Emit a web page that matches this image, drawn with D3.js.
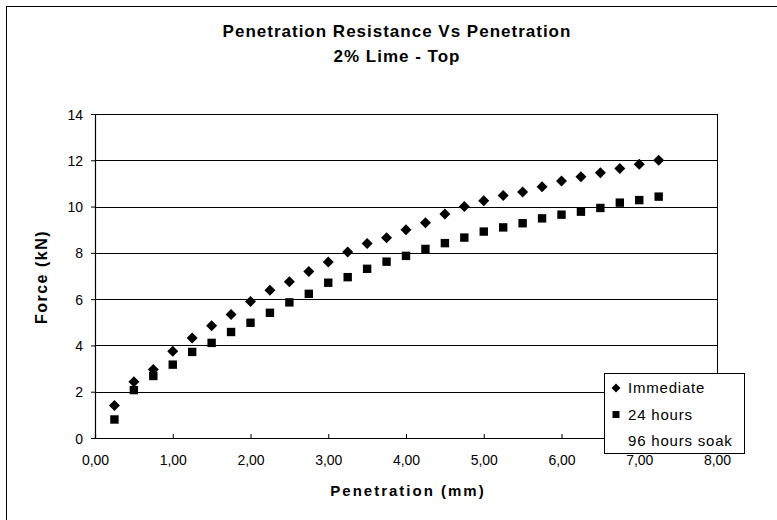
<!DOCTYPE html>
<html>
<head>
<meta charset="utf-8">
<script src="https://cdn.jsdelivr.net/npm/d3@7"></script>
<style>
body { margin: 0; background: #fff; }
text { font-family: "Liberation Sans", Arial, sans-serif; fill: #000; }
.title { font-weight: bold; font-size: 17px; letter-spacing: 1px; }
.axis-title { font-weight: bold; font-size: 15px; letter-spacing: 2px; }
.y-title { font-weight: bold; font-size: 16px; letter-spacing: 1.5px; }
.tick text { font-size: 14px; }
.legend text { font-size: 15px; letter-spacing: 0.8px; }
</style>
</head>
<body>
<div id="chart"></div>
<script>
// penetration (mm)
var penetration = [0.25, 0.5, 0.75, 1.0, 1.25, 1.5, 1.75, 2.0, 2.25, 2.5, 2.75, 3.0, 3.25, 3.5, 3.75,
    4.0, 4.25, 4.5, 4.75, 5.0, 5.25, 5.5, 5.75, 6.0, 6.25, 6.5, 6.75, 7.0, 7.25];

// force (kN)
var immediate = [1.4, 2.43, 2.96, 3.75, 4.32, 4.85, 5.34, 5.9, 6.38, 6.75, 7.19, 7.61, 8.04, 8.4, 8.65,
    9.0, 9.3, 9.68, 10.0, 10.25, 10.48, 10.63, 10.86, 11.1, 11.29, 11.46, 11.65, 11.83, 12.0];
var hours24 = [0.8, 2.07, 2.68, 3.17, 3.72, 4.11, 4.58, 4.98, 5.41, 5.86, 6.23, 6.71, 6.95, 7.31, 7.62,
    7.87, 8.17, 8.42, 8.66, 8.92, 9.1, 9.28, 9.49, 9.65, 9.78, 9.94, 10.17, 10.28, 10.43];

var seriesNames = ["Immediate", "24 hours", "96 hours soak"];
var xTicks = [0, 1, 2, 3, 4, 5, 6, 7, 8];
var yTicks = [0, 2, 4, 6, 8, 10, 12, 14];

var W = 777, H = 520;
var margin = {top: 114, right: 60, bottom: 82, left: 95};
var width = W - margin.left - margin.right;
var height = H - margin.top - margin.bottom;

var svg = d3.select("#chart").append("svg")
    .attr("width", W)
    .attr("height", H);

// outer chart frame (only left & top visible in the scan)
svg.append("line").attr("x1", 6.5).attr("x2", 6.5).attr("y1", 6).attr("y2", H)
    .attr("stroke", "#000").attr("stroke-width", 1);
svg.append("line").attr("x1", 6).attr("x2", W).attr("y1", 6.5).attr("y2", 6.5)
    .attr("stroke", "#000").attr("stroke-width", 1);

var g = svg.append("g")
    .attr("transform", "translate(" + margin.left + "," + margin.top + ")");

var x = d3.scaleLinear().domain([0, 8]).range([0, width]);
var y = d3.scaleLinear().domain([0, 14]).range([height, 0]);

// gridlines
g.append("g")
    .selectAll("line")
    .data(yTicks.slice(1))
    .enter().append("line")
    .attr("x1", 0)
    .attr("x2", width)
    .attr("y1", function (d) { return Math.round(y(d)) + 0.5; })
    .attr("y2", function (d) { return Math.round(y(d)) + 0.5; })
    .attr("stroke", "#000")
    .attr("stroke-width", 1);

// right border
g.append("line")
    .attr("x1", width + 0.5).attr("x2", width + 0.5)
    .attr("y1", 0).attr("y2", height)
    .attr("stroke", "#000");

var fmt = function (d) { return d3.format(".2f")(d).replace(".", ","); };

var xAxis = g.append("g")
    .attr("transform", "translate(0," + height + ")")
    .call(d3.axisBottom(x).tickValues(xTicks).tickFormat(fmt).tickSize(-4).tickPadding(17));
xAxis.select(".domain").attr("stroke-width", 1.2);

var yAxis = g.append("g")
    .call(d3.axisLeft(y).tickValues(yTicks).tickSize(4).tickPadding(8));
yAxis.select(".domain").attr("stroke-width", 1.2);
yAxis.selectAll(".tick text").attr("dy", "0.36em");

// markers
function diamond(r) {
    return "M0," + (-r) + "L" + r + ",0L0," + r + "L" + (-r) + ",0Z";
}
function square(s) {
    return "M" + (-s) + "," + (-s) + "H" + s + "V" + s + "H" + (-s) + "Z";
}

g.append("g")
    .selectAll("path")
    .data(penetration)
    .enter().append("path")
    .attr("d", square(4.2))
    .attr("transform", function (d, i) {
        return "translate(" + x(d) + "," + y(hours24[i]) + ")";
    })
    .attr("fill", "#000");

g.append("g")
    .selectAll("path")
    .data(penetration)
    .enter().append("path")
    .attr("d", diamond(5.5))
    .attr("transform", function (d, i) {
        return "translate(" + x(d) + "," + y(immediate[i]) + ")";
    })
    .attr("fill", "#000");

// titles
svg.append("text")
    .attr("class", "title")
    .attr("x", 397)
    .attr("y", 37)
    .attr("text-anchor", "middle")
    .text("Penetration Resistance Vs Penetration");
svg.append("text")
    .attr("class", "title")
    .attr("x", 397)
    .attr("y", 62)
    .attr("text-anchor", "middle")
    .text("2% Lime - Top");

svg.append("text")
    .attr("class", "axis-title")
    .attr("x", 408)
    .attr("y", 496)
    .attr("text-anchor", "middle")
    .text("Penetration (mm)");

svg.append("text")
    .attr("class", "y-title")
    .attr("transform", "translate(47,277) rotate(-90)")
    .attr("text-anchor", "middle")
    .text("Force (kN)");

// legend
var legend = svg.append("g")
    .attr("class", "legend")
    .attr("transform", "translate(604,373)");

legend.append("rect")
    .attr("x", 0.5).attr("y", 0.5)
    .attr("width", 140).attr("height", 80)
    .attr("fill", "#fff")
    .attr("stroke", "#000");

var legendSymbols = [diamond(4.5), square(3.5), null];
var item = legend.selectAll(".item")
    .data(seriesNames)
    .enter().append("g")
    .attr("class", "item")
    .attr("transform", function (d, i) { return "translate(0," + (15 + i * 26.5) + ")"; });

item.each(function (d, i) {
    if (legendSymbols[i]) {
        d3.select(this).append("path")
            .attr("d", legendSymbols[i])
            .attr("transform", "translate(12,0)")
            .attr("fill", "#000");
    }
});

item.append("text")
    .attr("x", 24)
    .attr("dy", "0.36em")
    .text(function (d) { return d; });

// keep the x tick labels above the legend box
g.raise();
xAxis.selectAll(".tick line").remove();
var xTickMarks = g.append("g")
    .attr("transform", "translate(0," + height + ")");
xTickMarks.selectAll("line")
    .data(xTicks)
    .enter().append("line")
    .attr("x1", function (d) { return x(d) + 0.5; })
    .attr("x2", function (d) { return x(d) + 0.5; })
    .attr("y1", 0).attr("y2", -4)
    .attr("stroke", "#000");
legend.raise();
xAxis.selectAll(".tick text").each(function () {
    var t = d3.select(this);
    var p = d3.select(this.parentNode).attr("transform");
    svg.append("text")
        .attr("transform", "translate(" + margin.left + "," + (margin.top + height) + ") " + p)
        .attr("y", t.attr("y"))
        .attr("dy", t.attr("dy"))
        .attr("text-anchor", "middle")
        .style("font-size", "14px")
        .text(t.text());
    t.remove();
});
</script>
</body>
</html>
